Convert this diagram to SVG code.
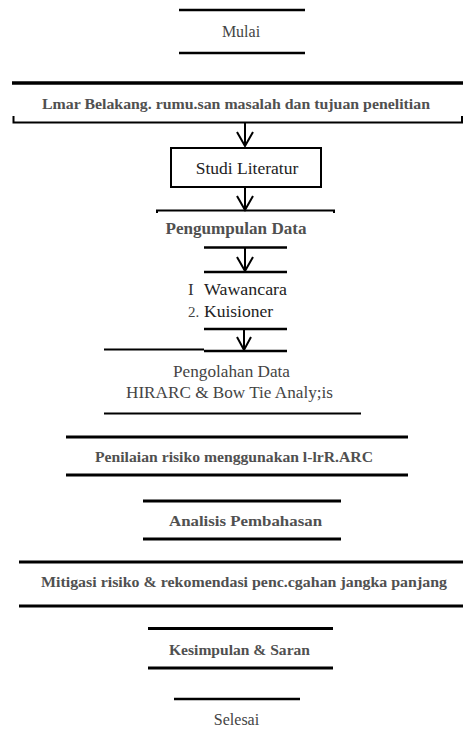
<svg xmlns="http://www.w3.org/2000/svg" width="463" height="740" viewBox="0 0 463 740">
<style>
.ln{stroke:#000;fill:none}
.t{font-family:"Liberation Serif","Times New Roman",serif;fill:#444;text-anchor:middle}
.b{font-weight:bold;fill:#505050}
.ar{stroke:#000;stroke-width:2;fill:none}
</style>
<rect width="463" height="740" fill="#fff"/>
<g id="mulai">
<line class="ln" x1="179" y1="10" x2="305" y2="10" stroke-width="2.5"/>
<text class="t" x="241" y="37" font-size="16">Mulai</text>
<line class="ln" x1="179" y1="53" x2="305" y2="53" stroke-width="2.5"/>
</g>
<g id="latar">
<line class="ln" x1="12" y1="83" x2="463" y2="83" stroke-width="3.5"/>
<text class="t b" x="236" y="109" font-size="15.5" textLength="388" lengthAdjust="spacingAndGlyphs">Lmar Belakang. rumu.san masalah dan tujuan penelitian</text>
<path class="ln" d="M13.5,116 V122.5 H462 V116" stroke-width="2"/>
</g>
<g id="studi">
<rect class="ln" x="171" y="148" width="150" height="39" stroke-width="2"/>
<text class="t" x="247" y="174" font-size="17.5" fill="#222" style="fill:#222">Studi Literatur</text>
</g>
<g id="pengumpulan">
<path class="ln" d="M157,213 V210.5 H334 V213" stroke-width="2"/>
<text class="t b" x="236" y="234" font-size="16.5" textLength="141" lengthAdjust="spacingAndGlyphs">Pengumpulan Data</text>
<line class="ln" x1="204" y1="247.5" x2="287" y2="247.5" stroke-width="2.5"/>
</g>
<g id="metode">
<line class="ln" x1="204" y1="272" x2="287" y2="272" stroke-width="2.5"/>
<text class="t" x="188" y="295" font-size="17" style="text-anchor:start;fill:#333">I</text>
<text class="t" x="204" y="295" font-size="17.5" style="text-anchor:start;fill:#222" textLength="83" lengthAdjust="spacingAndGlyphs">Wawancara</text>
<text class="t" x="188" y="317" font-size="15" style="text-anchor:start;fill:#444">2.</text>
<text class="t" x="204" y="317" font-size="17.5" style="text-anchor:start;fill:#222" textLength="69" lengthAdjust="spacingAndGlyphs">Kuisioner</text>
<line class="ln" x1="204" y1="329" x2="287" y2="329" stroke-width="2.5"/>
</g>
<g id="pengolahan">
<line class="ln" x1="104" y1="349.5" x2="204" y2="349.5" stroke-width="2"/>
<line class="ln" x1="204" y1="351" x2="287" y2="351" stroke-width="2.5"/>
<text class="t" x="231.5" y="377" font-size="17" textLength="117" lengthAdjust="spacingAndGlyphs">Pengolahan Data</text>
<text class="t" x="229.5" y="398" font-size="17" textLength="207" lengthAdjust="spacingAndGlyphs">HIRARC &amp; Bow Tie Analy;is</text>
<line class="ln" x1="104" y1="413.5" x2="361" y2="413.5" stroke-width="2"/>
</g>
<g id="penilaian">
<line class="ln" x1="66" y1="437" x2="408" y2="437" stroke-width="3"/>
<text class="t b" x="234" y="462" font-size="15.5" textLength="278" lengthAdjust="spacingAndGlyphs">Penilaian risiko menggunakan l-lrR.ARC</text>
<line class="ln" x1="66" y1="475" x2="408" y2="475" stroke-width="3"/>
</g>
<g id="analisis">
<line class="ln" x1="143" y1="501" x2="341" y2="501" stroke-width="3"/>
<text class="t b" x="245.5" y="526" font-size="15.5" textLength="153" lengthAdjust="spacingAndGlyphs">Analisis Pembahasan</text>
<line class="ln" x1="143" y1="539" x2="341" y2="539" stroke-width="3"/>
</g>
<g id="mitigasi">
<line class="ln" x1="19" y1="562" x2="463" y2="562" stroke-width="3"/>
<text class="t b" x="244" y="587" font-size="15.5" textLength="406" lengthAdjust="spacingAndGlyphs">Mitigasi risiko &amp; rekomendasi penc.cgahan jangka panjang</text>
<line class="ln" x1="19" y1="606" x2="463" y2="606" stroke-width="3"/>
</g>
<g id="kesimpulan">
<line class="ln" x1="148" y1="628.5" x2="333" y2="628.5" stroke-width="3"/>
<text class="t b" x="239.5" y="655" font-size="15.5" textLength="141" lengthAdjust="spacingAndGlyphs">Kesimpulan &amp; Saran</text>
<line class="ln" x1="148" y1="668" x2="333" y2="668" stroke-width="3"/>
</g>
<g id="selesai">
<line class="ln" x1="174" y1="699" x2="300" y2="699" stroke-width="2.5"/>
<text class="t" x="236.5" y="725" font-size="16">Selesai</text>
</g>
<g id="connectors">
<path class="ar" d="M245,123 V146 M237,132 L245,146 L253,132"/>
<path class="ar" d="M245,187 V210 M237,196 L245,210 L253,196"/>
<path class="ar" d="M245,248 V271 M237,257 L245,271 L253,257"/>
<path class="ar" d="M244,329 V350 M237,337 L244,350 L251,337"/>
</g>
</svg>
